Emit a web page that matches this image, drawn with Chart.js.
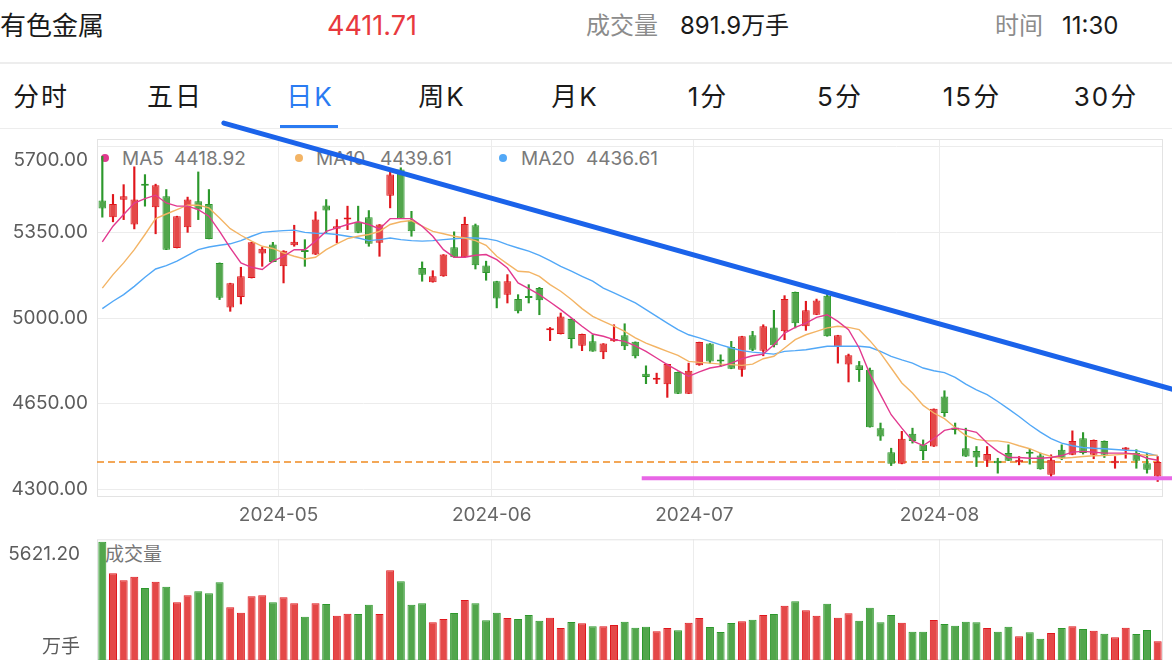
<!DOCTYPE html>
<html lang="zh-CN">
<head>
<meta charset="utf-8">
<title>有色金属 日K</title>
<script src="https://cdn.jsdelivr.net/npm/chart.js@4.4.1/dist/chart.umd.min.js"></script>
<style>
  html, body { margin: 0; padding: 0; background: #fff; }
  body { position: relative; width: 1172px; height: 668px; overflow: hidden;
         font-family: Inter, "Noto Sans CJK SC", sans-serif; color: #1a1a1a; }
  .t { position: absolute; line-height: 1; white-space: nowrap; }
  .c { width: 120px; text-align: center; }
  .gray { color: #8c8c8c; }
  .sep { position: absolute; left: 0; width: 1172px; background: #ededed; }
  .tab { top: 84px; font-size: 26px; letter-spacing: 2px; }
  .lg { top: 149px; font-size: 19px; color: #7a7a7a; }
  .dot { position: absolute; top: 154px; width: 8px; height: 8px; border-radius: 50%; }
  canvas { position: absolute; left: 0; }
</style>
</head>
<body>
  <div class="t" style="left:0;top:13px;font-size:26px">有色金属</div>
  <div class="t c" id="lastPrice" style="left:312px;top:12px;font-size:27px;color:#e8393e"></div>
  <div class="t gray" style="left:586px;top:14px;font-size:24px">成交量</div>
  <div class="t" id="lastVol" style="left:680px;top:14px;font-size:24px"></div>
  <div class="t gray" style="left:995px;top:14px;font-size:24px">时间</div>
  <div class="t" style="left:1062px;top:14px;font-size:24px">11:30</div>
  <div class="sep" style="top:62px;height:2px"></div>

  <div class="t c tab" style="left:-19px">分时</div>
  <div class="t c tab" style="left:115px">五日</div>
  <div class="t c tab" style="left:250px;color:#2a7bf2">日K</div>
  <div class="t c tab" style="left:382px">周K</div>
  <div class="t c tab" style="left:515px">月K</div>
  <div class="t c tab" style="left:648px">1分</div>
  <div class="t c tab" style="left:780px">5分</div>
  <div class="t c tab" style="left:912px">15分</div>
  <div class="t c tab" style="left:1046px">30分</div>
  <div class="sep" style="top:128px;height:1px"></div>
  <div style="position:absolute;left:280px;top:125px;width:58px;height:3px;background:#2a7bf2"></div>

  <div id="legend"></div>
  <div class="t" style="left:105px;top:545px;font-size:19px;color:#777">成交量</div>

  <canvas id="kChart" width="1172" height="530" style="top:0"></canvas>
  <canvas id="volChart" width="1172" height="138" style="top:530px"></canvas>

<script>
// trading days shown, April 8 to August 29, 2024
const aprDays = [8, 9, 10, 11, 12, 15, 16, 17, 18, 19, 22, 23, 24, 25, 26, 29, 30];
const mayDays = [6, 7, 8, 9, 10, 13, 14, 15, 16, 17, 20, 21, 22, 23, 24, 27, 28, 29, 30, 31];
const junDays = [3, 4, 5, 6, 7, 11, 12, 13, 14, 17, 18, 19, 20, 21, 24, 25, 26, 27, 28];
const julDays = [1, 2, 3, 4, 5, 8, 9, 10, 11, 12, 15, 16, 17, 18, 19, 22, 23, 24, 25, 26, 29, 30, 31];
const augDays = [1, 2, 5, 6, 7, 8, 9, 12, 13, 14, 15, 16, 19, 20, 21, 22, 23, 26, 27, 28, 29];

const opens = [5481, 5413, 5484, 5383, 5546, 5454, 5499, 5287, 5372, 5478,
  5467, 5226, 5044, 5087, 5164, 5264, 5301, 5212, 5298, 5276,
  5260, 5461, 5366, 5403, 5394, 5413, 5308, 5501, 5608, 5399,
  5205, 5147, 5171, 5290, 5249, 5380, 5215, 5151, 5096, 5078,
  5089, 5123, 4950, 4935, 4997, 4887, 4905, 4861, 4905, 4930,
  4903, 4773, 4748, 4730, 4780, 4691, 4807, 4896, 4829, 4882,
  4789, 4930, 4867, 4962, 4946, 5107, 4967, 5014, 5092, 4882,
  4810, 4807, 4789, 4550, 4452, 4404, 4527, 4482, 4475, 4680,
  4553, 4468, 4457, 4417, 4417, 4448, 4411, 4451, 4438, 4359,
  4462, 4441, 4509, 4441, 4498, 4407, 4462, 4448, 4407, 4352];
const highs = [5662, 5506, 5546, 5619, 5587, 5548, 5526, 5417, 5495, 5598,
  5526, 5226, 5143, 5208, 5310, 5290, 5310, 5276, 5380, 5321,
  5435, 5485, 5403, 5458, 5458, 5440, 5383, 5601, 5615, 5437,
  5230, 5194, 5260, 5353, 5413, 5385, 5233, 5151, 5178, 5096,
  5137, 5126, 4962, 5021, 4997, 4935, 4932, 4896, 4973, 4977,
  4903, 4805, 4775, 4812, 4780, 4816, 4902, 4896, 4850, 4905,
  4926, 4946, 4973, 5032, 5092, 5107, 5069, 5078, 5099, 4930,
  4853, 4823, 4796, 4571, 4468, 4537, 4550, 4502, 4629, 4703,
  4571, 4550, 4475, 4475, 4427, 4482, 4434, 4464, 4448, 4441,
  4482, 4539, 4532, 4502, 4498, 4434, 4471, 4462, 4448, 4434];
const lows = [5413, 5394, 5403, 5365, 5458, 5345, 5280, 5287, 5351, 5403,
  5324, 5076, 5028, 5058, 5164, 5212, 5230, 5144, 5294, 5212,
  5260, 5349, 5308, 5362, 5349, 5294, 5253, 5451, 5407, 5335,
  5151, 5147, 5171, 5249, 5249, 5201, 5155, 5042, 5062, 5021,
  5062, 5014, 4908, 4935, 4878, 4867, 4864, 4834, 4905, 4871,
  4837, 4732, 4732, 4676, 4691, 4691, 4807, 4816, 4803, 4793,
  4762, 4867, 4846, 4882, 4912, 4960, 4950, 5014, 4926, 4816,
  4739, 4741, 4554, 4500, 4397, 4404, 4489, 4421, 4475, 4598,
  4526, 4434, 4393, 4393, 4366, 4417, 4400, 4403, 4382, 4352,
  4421, 4441, 4444, 4425, 4430, 4386, 4427, 4386, 4366, 4332];
const closes = [5448, 5467, 5499, 5485, 5542, 5544, 5280, 5417, 5485, 5444,
  5324, 5083, 5143, 5171, 5310, 5284, 5230, 5276, 5312, 5271,
  5403, 5440, 5376, 5410, 5349, 5304, 5383, 5587, 5407, 5355,
  5178, 5171, 5260, 5249, 5385, 5216, 5185, 5080, 5151, 5028,
  5082, 5073, 4956, 5007, 4915, 4935, 4864, 4896, 4915, 4885,
  4844, 4759, 4755, 4812, 4691, 4785, 4902, 4823, 4823, 4793,
  4926, 4871, 4967, 4889, 5078, 4979, 5032, 5072, 4926, 4930,
  4848, 4788, 4554, 4516, 4404, 4507, 4498, 4457, 4629, 4612,
  4543, 4434, 4430, 4444, 4407, 4417, 4421, 4445, 4382, 4421,
  4427, 4498, 4448, 4502, 4441, 4417, 4471, 4417, 4380, 4411.71];

// 成交量, 万手
const volumes = [5621.2, 4120, 3787, 3959, 3421, 3721, 3483, 2742, 3075, 3265,
  3170, 3692, 2504, 2248, 3027, 3075, 2742, 2980, 2694, 2058,
  2694, 2661, 2105, 2200, 2186, 2628, 2186, 4263, 3740, 2628,
  2694, 1791, 1948, 2233, 2851, 2694, 1886, 2248, 1996, 1948,
  2138, 1868, 2010, 1521, 1806, 1744, 1601, 1601, 1663, 1820,
  1535, 1582, 1364, 1521, 1411, 1773, 1996, 1568, 1331, 1758,
  1839, 1915, 2138, 2186, 2580, 2789, 2362, 2105, 2675, 2010,
  2219, 1868, 2485, 1791, 2138, 1773, 1345, 1345, 1901, 1711,
  1630, 1820, 1791, 1521, 1345, 1582, 1126, 1316, 1012, 1283,
  1521, 1601, 1473, 1392, 1250, 1079, 1535, 1236, 1426, 891.9];

const ma5 = [5312, 5376, 5424, 5471, 5489, 5503, 5471, 5458, 5458, 5444,
  5417, 5355, 5287, 5226, 5208, 5199, 5233, 5253, 5280, 5280,
  5315, 5355, 5369, 5383, 5394, 5383, 5365, 5407, 5407, 5407,
  5376, 5335, 5280, 5249, 5249, 5257, 5260, 5239, 5205, 5144,
  5121, 5096, 5066, 5035, 5001, 4967, 4935, 4926, 4912, 4905,
  4887, 4864, 4837, 4810, 4785, 4762, 4780, 4796, 4803, 4816,
  4834, 4846, 4853, 4891, 4939, 4962, 4980, 5003, 5014, 4987,
  4953, 4878, 4771, 4687, 4605, 4550, 4498, 4479, 4507, 4541,
  4550, 4543, 4533, 4489, 4455, 4430, 4430, 4427, 4427, 4430,
  4438, 4452, 4455, 4452, 4448, 4448, 4448, 4444, 4427, 4418.92];
const ma10 = [5123, 5178, 5226, 5280, 5342, 5407, 5426, 5444, 5462, 5462,
  5451, 5410, 5366, 5339, 5315, 5294, 5285, 5267, 5253, 5242,
  5249, 5280, 5304, 5325, 5335, 5342, 5355, 5383, 5394, 5399,
  5376, 5355, 5345, 5335, 5328, 5317, 5298, 5253, 5222, 5192,
  5189, 5171, 5137, 5110, 5076, 5039, 5007, 4987, 4967, 4946,
  4919, 4898, 4881, 4864, 4848, 4823, 4819, 4816, 4812, 4810,
  4807, 4812, 4834, 4844, 4878, 4912, 4932, 4946, 4960, 4967,
  4962, 4953, 4908, 4857, 4796, 4735, 4694, 4643, 4612, 4589,
  4553, 4520, 4504, 4498, 4498, 4492, 4478, 4466, 4448, 4434,
  4427, 4430, 4434, 4437, 4438, 4441, 4444, 4444, 4438, 4439.61];
const ma20 = [5039, 5069, 5096, 5130, 5167, 5201, 5215, 5233, 5257, 5280,
  5291, 5298, 5304, 5317, 5335, 5351, 5355, 5358, 5360, 5351,
  5347, 5346, 5342, 5335, 5328, 5317, 5321, 5328, 5321, 5317,
  5315, 5317, 5321, 5325, 5328, 5328, 5325, 5317, 5301, 5287,
  5274, 5257, 5235, 5212, 5192, 5171, 5151, 5123, 5103, 5083,
  5062, 5035, 5007, 4980, 4953, 4932, 4919, 4905, 4891, 4878,
  4867, 4861, 4857, 4853, 4864, 4867, 4871, 4878, 4885, 4885,
  4885, 4885, 4881, 4864, 4844, 4829, 4816, 4796, 4785, 4777,
  4758, 4730, 4707, 4687, 4659, 4629, 4598, 4564, 4534, 4507,
  4489, 4478, 4471, 4468, 4466, 4463, 4460, 4458, 4448, 4436.61];

const priceTicks = [4300, 4650, 5000, 5350, 5700];
const volTicks = [0, 5621.2];

// drawn annotations, in (candle index, price)
const trendLine = [{ i: 11.4, p: 5798 }, { i: 101, p: 4702 }];
const supportLine = { from: 50.6, price: 4345 };

const maNames = ['MA5', 'MA10', 'MA20'];
const maColors = ['#e2398f', '#f3b465', '#52a8f7'];

const UP_FILL = '#e44848', UP_LINE = '#e0161c';
const DOWN_FILL = '#52a64c', DOWN_LINE = '#2c982c';
const GRID = '#ececec';
const FONT = 'Inter, "Noto Sans CJK SC", sans-serif';

const pad2 = d => String(d).padStart(2, '0');
const dates = [
  ...aprDays.map(d => '2024-04-' + pad2(d)),
  ...mayDays.map(d => '2024-05-' + pad2(d)),
  ...junDays.map(d => '2024-06-' + pad2(d)),
  ...julDays.map(d => '2024-07-' + pad2(d)),
  ...augDays.map(d => '2024-08-' + pad2(d))
];
const isMonthStart = i => i > 0 && i < dates.length && dates[i].slice(0, 7) !== dates[i - 1].slice(0, 7);
const isUp = closes.map((c, i) => c >= opens[i]);

// header + legend text
document.getElementById('lastPrice').textContent = closes[closes.length - 1].toFixed(2);
document.getElementById('lastVol').textContent = volumes[volumes.length - 1].toFixed(1) + '万手';

const legendPos = [[105, 122, 174], [299, 316, 380], [503, 521, 586]];
const maLast = [ma5, ma10, ma20].map(a => a[a.length - 1].toFixed(2));
const legend = document.getElementById('legend');
legendPos.forEach(([dx, nx, vx], k) => {
  legend.insertAdjacentHTML('beforeend',
    `<div class="dot" style="left:${dx - 4}px;background:${maColors[k]}"></div>` +
    `<div class="t lg" style="left:${nx}px">${maNames[k]}</div>` +
    `<div class="t lg" style="left:${vx}px">${maLast[k]}</div>`);
});

// light frame round the plotting area
const chartFrame = {
  id: 'chartFrame',
  beforeDatasetsDraw(chart) {
    const { ctx, chartArea: a } = chart;
    ctx.save();
    ctx.strokeStyle = '#e3e3e3';
    ctx.lineWidth = 1;
    ctx.strokeRect(a.left + 0.5, a.top + 0.5, a.right - a.left - 1, a.bottom - a.top - 1);
    ctx.restore();
  }
};

// last price line, support line and the drawn trend line
const priceMarks = {
  id: 'priceMarks',
  beforeDatasetsDraw(chart) {
    const { ctx, chartArea: a, scales: { y } } = chart;
    const py = y.getPixelForValue(closes[closes.length - 1]);
    ctx.save();
    ctx.strokeStyle = '#ef8a20';
    ctx.lineWidth = 1.5;
    ctx.setLineDash([7, 4]);
    ctx.beginPath();
    ctx.moveTo(a.left, py);
    ctx.lineTo(a.right, py);
    ctx.stroke();
    ctx.restore();
  },
  afterDatasetsDraw(chart) {
    const { ctx, width, scales: { x, y } } = chart;
    ctx.save();
    const sy = y.getPixelForValue(supportLine.price);
    ctx.strokeStyle = '#e866e6';
    ctx.lineWidth = 4;
    ctx.beginPath();
    ctx.moveTo(x.getPixelForValue(supportLine.from), sy);
    ctx.lineTo(width, sy);
    ctx.stroke();

    ctx.strokeStyle = '#1b63ea';
    ctx.lineWidth = 5;
    ctx.lineCap = 'round';
    ctx.beginPath();
    ctx.moveTo(x.getPixelForValue(trendLine[0].i), y.getPixelForValue(trendLine[0].p));
    ctx.lineTo(x.getPixelForValue(trendLine[1].i), y.getPixelForValue(trendLine[1].p));
    ctx.stroke();
    ctx.restore();
  }
};

function dateAxis(showLabels) {
  return {
    offset: true,
    grid: {
      offset: true,
      drawTicks: false,
      color: ctx => isMonthStart(ctx.index) ? GRID : 'transparent'
    },
    border: { display: false },
    ticks: {
      display: showLabels,
      autoSkip: false,
      maxRotation: 0,
      padding: 7,
      labelOffset: -5,
      color: '#666',
      font: { family: FONT, size: 19 },
      callback: (v, i) => isMonthStart(i) ? dates[i].slice(0, 7) : ''
    },
    afterFit: s => { s.height = showLabels ? 33 : 0; }
  };
}

// fixed-width value axis; labels may hang over the plot edges
function fixValueAxis(s) {
  s.width = 97;
  s.paddingTop = 0;
  s.paddingBottom = 0;
}

const maDatasets = [ma5, ma10, ma20].map((data, k) => ({
  type: 'line',
  label: maNames[k],
  data,
  borderColor: maColors[k],
  borderWidth: 1.4,
  pointRadius: 0,
  order: 0
}));

new Chart(document.getElementById('kChart'), {
  type: 'bar',
  data: {
    labels: dates,
    datasets: [
      ...maDatasets,
      {
        label: 'body',
        data: opens.map((o, i) => [o, closes[i]]),
        backgroundColor: isUp.map(u => u ? UP_FILL : DOWN_FILL),
        borderColor: isUp.map(u => u ? UP_LINE : DOWN_LINE),
        borderWidth: 1,
        borderSkipped: false,
        grouped: false,
        barPercentage: 0.72,
        categoryPercentage: 1,
        minBarLength: 2,
        order: 1
      },
      {
        label: 'wick',
        data: lows.map((l, i) => [l, highs[i]]),
        backgroundColor: isUp.map(u => u ? UP_LINE : DOWN_LINE),
        borderWidth: 0,
        grouped: false,
        barThickness: 1.5,
        order: 2
      }
    ]
  },
  options: {
    responsive: false,
    animation: false,
    events: [],
    layout: { padding: { top: 139, right: 9, left: 0, bottom: 0 } },
    plugins: { legend: { display: false }, tooltip: { enabled: false } },
    scales: {
      x: dateAxis(true),
      y: {
        min: 4268.5,
        max: 5732.7,
        afterBuildTicks: s => { s.ticks = priceTicks.map(v => ({ value: v })); },
        afterFit: fixValueAxis,
        grid: { color: GRID, drawTicks: false },
        border: { display: false },
        ticks: {
          padding: 9,
          color: '#5c5c5c',
          font: { family: FONT, size: 19, lineHeight: 1.35 },
          callback: v => v === priceTicks[priceTicks.length - 1] ? ['', v.toFixed(2)] : v.toFixed(2)
        }
      }
    }
  },
  plugins: [chartFrame, priceMarks]
});

new Chart(document.getElementById('volChart'), {
  type: 'bar',
  data: {
    labels: dates,
    datasets: [{
      label: '成交量',
      data: volumes,
      backgroundColor: isUp.map(u => u ? UP_FILL : DOWN_FILL),
      borderColor: isUp.map(u => u ? UP_LINE : DOWN_LINE),
      borderWidth: 1,
      borderSkipped: 'start',
      barPercentage: 0.75,
      categoryPercentage: 1
    }]
  },
  options: {
    responsive: false,
    animation: false,
    events: [],
    layout: { padding: { top: 9.3, right: 9, left: 0, bottom: 8 } },
    plugins: { legend: { display: false }, tooltip: { enabled: false } },
    scales: {
      x: dateAxis(false),
      y: {
        min: 0,
        max: 5735,
        afterBuildTicks: s => { s.ticks = volTicks.map(v => ({ value: v })); },
        afterFit: fixValueAxis,
        grid: { display: false },
        border: { display: false },
        ticks: {
          padding: 9,
          color: '#5c5c5c',
          font: { family: FONT, size: 19, lineHeight: 1.35 },
          callback: v => v === 0 ? ['万手', ''] : ['', v.toFixed(2)]
        }
      }
    }
  },
  plugins: [chartFrame]
});
</script>
</body>
</html>
